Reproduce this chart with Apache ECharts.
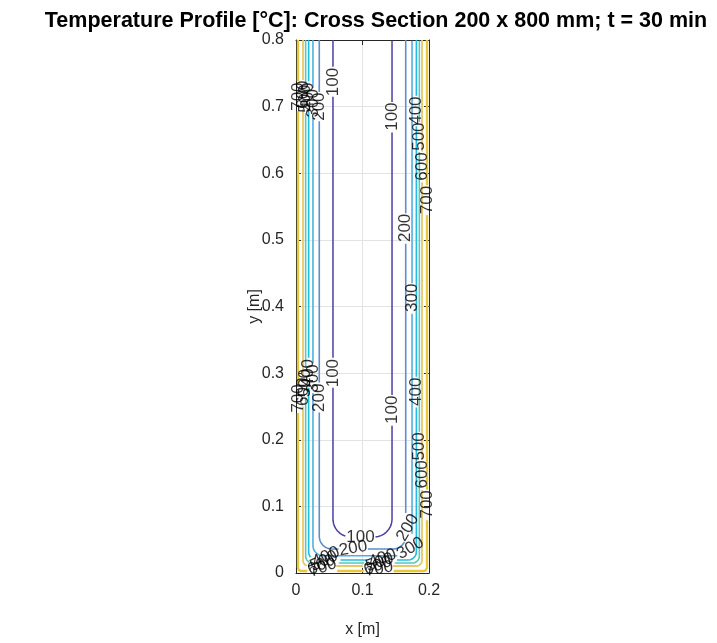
<!DOCTYPE html>
<html><head><meta charset="utf-8">
<script src="https://cdn.jsdelivr.net/npm/echarts@6/dist/echarts.min.js"></script>
<style>html,body{margin:0;padding:0;background:#fff}#c{width:717px;height:643px}</style>
</head><body><div id="c"></div>
<script>
// ---- data ----
const levels = [100, 200, 300, 400, 500, 600, 700];           // isotherm levels [°C]
const sideDepth = [0.0556, 0.035, 0.0255, 0.019, 0.0145, 0.0105, 0.003];   // depth from left/right faces [m]
const bottomDepth = [0.054, 0.036, 0.026, 0.0195, 0.015, 0.0105, 0.003];   // depth from bottom face [m]
const cornerRadius = [0.027, 0.019, 0.015, 0.012, 0.010, 0.008, 0.005];   // rounding of isotherms at corners [m]
const sectionWidth = 0.2, sectionHeight = 0.8;
// inline contour labels: level, x, y, angle
const labelLevel = [100, 200, 300, 400, 500, 600, 700,
                    100, 200, 300, 400, 500, 600, 700,
                    100, 400, 500, 600, 700, 200, 300,
                    100, 400, 500, 600, 700, 200,
                    100, 200, 300, 400, 500, 600, 700,
                    400, 500, 600, 700];
const labelX = [0.0556, 0.035, 0.0255, 0.019, 0.0145, 0.0105, 0.003,
                0.0556, 0.035, 0.0255, 0.019, 0.0145, 0.0105, 0.003,
                0.1444, 0.181, 0.1855, 0.1895, 0.197, 0.165, 0.1745,
                0.1444, 0.181, 0.1855, 0.1895, 0.197, 0.168,
                0.097, 0.086, 0.172, 0.045, 0.042, 0.038, 0.040,
                0.130, 0.126, 0.123, 0.125];
const labelY = [0.737, 0.700, 0.705, 0.715, 0.712, 0.718, 0.715,
                0.300, 0.263, 0.292, 0.300, 0.285, 0.272, 0.262,
                0.685, 0.694, 0.655, 0.610, 0.560, 0.518, 0.413,
                0.245, 0.272, 0.190, 0.148, 0.103, 0.068,
                0.054, 0.037, 0.037, 0.024, 0.018, 0.012, 0.008,
                0.022, 0.016, 0.011, 0.006];
const labelAngle = [90, 90, 90, 90, 90, 90, 90,
                    90, 90, 90, 90, 90, 90, 90,
                    90, 90, 90, 90, 90, 90, 90,
                    90, 90, 90, 90, 90, 60,
                    0, 10, 30, 25, 25, 25, 20,
                    20, 20, 20, 10];
const xTicks = [0, 0.1, 0.2];
const yTicks = [0, 0.1, 0.2, 0.3, 0.4, 0.5, 0.6, 0.7, 0.8];

// ---- styles ----
const lineColors = ['#4b3fa8', '#5b8fd0', '#52ace6', '#21bde0', '#5cc7b8', '#e6c96a', '#e8c83a'];
const lineWidths = [1.5, 1.6, 1.6, 1.6, 1.6, 1.8, 2.4];

function isothermPath(i) {
  const d = sideDepth[i], b = bottomDepth[i], r = cornerRadius[i];
  const W = sectionWidth, H = sectionHeight, st = 0.001;
  const pts = [];
  for (let y = H; y > b + r; y -= st) pts.push([d, y]);
  for (let k = 0; k <= 20; k++) { const a = Math.PI + k / 20 * Math.PI / 2; pts.push([d + r + r * Math.cos(a), b + r + r * Math.sin(a)]); }
  for (let x = d + r; x < W - d - r; x += st) pts.push([x, b]);
  for (let k = 0; k <= 20; k++) { const a = 1.5 * Math.PI + k / 20 * Math.PI / 2; pts.push([W - d - r + r * Math.cos(a), b + r + r * Math.sin(a)]); }
  for (let y = b + r; y <= H + 1e-9; y += st) pts.push([W - d, y]);
  pts.push([W - d, H]);
  return pts;
}

const series = [];
levels.forEach((lv, i) => {
  const pts = isothermPath(i);
  const labs = [];
  labelLevel.forEach((L, j) => { if (L === lv) labs.push([labelX[j], labelY[j]]); });
  let seg = [];
  const segs = [];
  pts.forEach(p => {
    const hidden = labs.some(q => Math.hypot(p[0] - q[0], p[1] - q[1]) < 0.022);
    if (hidden) { if (seg.length > 1) segs.push(seg); seg = []; }
    else seg.push(p);
  });
  if (seg.length > 1) segs.push(seg);
  segs.forEach(s => series.push({
    type: 'line', data: s, showSymbol: false, symbol: 'none', silent: true,
    lineStyle: { color: lineColors[i], width: lineWidths[i] }, z: 3 + i * 0.01
  }));
});

series.push({
  type: 'scatter', symbolSize: 0, silent: true, z: 10,
  itemStyle: { color: 'rgba(0,0,0,0)' },
  data: labelLevel.map((L, j) => ({
    value: [labelX[j], labelY[j]],
    label: { show: true, position: 'inside', formatter: String(L), rotate: labelAngle[j],
             color: '#000', textBorderWidth: 0, fontSize: 17, fontFamily: 'Liberation Sans' }
  }))
});

const chart = echarts.init(document.getElementById('c'), null, { renderer: 'canvas' });
const axisCommon = {
  type: 'value', interval: 0.1,
  axisLine: { show: true, onZero: false, lineStyle: { color: '#262626', width: 1 } },
  axisTick: { show: true, inside: true, length: 5, lineStyle: { color: '#262626' } },
  splitLine: { show: true, lineStyle: { color: '#e3e3e3', width: 1 } },
  axisLabel: { color: '#262626', fontSize: 16, fontFamily: 'Liberation Sans',
               formatter: v => String(Math.round(v * 10) / 10) }
};
chart.setOption({
  animation: false,
  backgroundColor: '#fff',
  title: {
    text: 'Temperature Profile [°C]: Cross Section 200 x 800 mm; t = 30 min',
    left: 371, top: 5, textAlign: 'center',
    textStyle: { fontFamily: 'Liberation Sans', fontWeight: 'bold', fontSize: 21.5, color: '#000' }
  },
  grid: { left: 296, top: 40, width: 133, height: 533 },
  xAxis: [
    Object.assign({}, axisCommon, { min: xTicks[0], max: xTicks[xTicks.length - 1], position: 'bottom',
      name: 'x [m]', nameLocation: 'middle', nameGap: 49,
      nameTextStyle: { color: '#262626', fontSize: 16, fontFamily: 'Liberation Sans' },
      axisLabel: Object.assign({}, axisCommon.axisLabel, { margin: 10 }) }),
    Object.assign({}, axisCommon, { min: xTicks[0], max: xTicks[xTicks.length - 1], position: 'top',
      axisLabel: { show: false }, splitLine: { show: false } })
  ],
  yAxis: [
    Object.assign({}, axisCommon, { min: yTicks[0], max: yTicks[yTicks.length - 1], position: 'left',
      name: 'y [m]', nameLocation: 'middle', nameGap: 33, nameRotate: 90, nameMoveOverlap: false,
      nameTextStyle: { color: '#262626', fontSize: 16, fontFamily: 'Liberation Sans' },
      axisLabel: Object.assign({}, axisCommon.axisLabel, { margin: 12 }) }),
    Object.assign({}, axisCommon, { min: yTicks[0], max: yTicks[yTicks.length - 1], position: 'right',
      axisLabel: { show: false }, splitLine: { show: false } })
  ],
  series: series
});
</script></body></html>
